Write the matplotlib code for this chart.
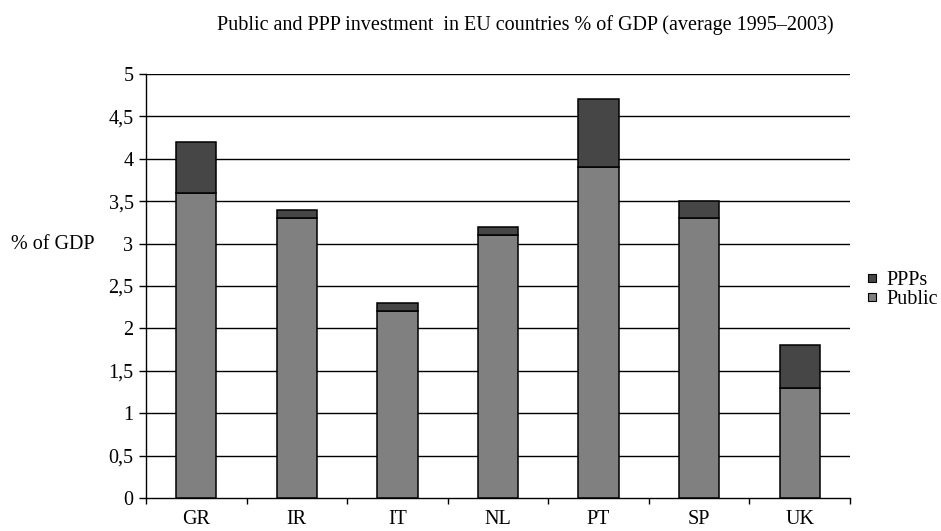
import numpy as np
import matplotlib
matplotlib.use("Agg")
import matplotlib.pyplot as plt
from matplotlib.lines import Line2D

plt.rcParams['font.family'] = ['Liberation Serif', 'DejaVu Serif']

# investimenti pubblici e PPP, % del PIL
countries = ['GR', 'IR', 'IT', 'NL', 'PT', 'SP', 'UK']
public = [3.6, 3.3, 2.2, 3.1, 3.9, 3.3, 1.3]
ppps = [0.6, 0.1, 0.1, 0.1, 0.8, 0.2, 0.5]
yticks = [0, 0.5, 1, 1.5, 2, 2.5, 3, 3.5, 4, 4.5, 5]
ytick_labels = ['0', '0,5', '1', '1,5', '2', '2,5', '3', '3,5', '4', '4,5', '5']

fs = 14.5

fig = plt.figure(figsize=(9.41, 5.31), dpi=100)
ax = fig.add_axes([146/941, 1 - 498/531, 704/941, 424/531])

x = np.arange(len(countries))
ax.bar(x, public, width=0.4, color='#808080', edgecolor='black', linewidth=1.1, zorder=3)
ax.bar(x, ppps, width=0.4, bottom=public, color='#464646', edgecolor='black', linewidth=1.1, zorder=3)

ax.set_xlim(-0.5, len(countries) - 0.5)
ax.set_ylim(0, 5)
ax.set_yticks(yticks)
ax.set_yticklabels(ytick_labels, fontsize=fs)
for y in yticks[1:]:
    ax.axhline(y, color='black', linewidth=1, zorder=1)

# categorie al centro, tacche sui confini
ax.set_xticks(x)
ax.set_xticklabels(countries, fontsize=fs)
ax.set_xticks(np.arange(-0.5, len(countries)), minor=True)
ax.tick_params(axis='x', which='major', length=0, pad=9)
ax.tick_params(axis='x', which='minor', length=4, direction='out', width=1)
ax.tick_params(axis='y', length=5, direction='out', width=1, pad=4)

ax.spines['top'].set_visible(False)
ax.spines['right'].set_visible(False)
ax.spines['left'].set_linewidth(1)
ax.spines['bottom'].set_linewidth(1)

fig.text(525/941, 1 - 25/531, 'Public and PPP investment  in EU countries % of GDP (average 1995\u20132003)',
         ha='center', va='center', fontsize=fs)
fig.text(53/941, 1 - 245/531, '% of GDP', ha='center', va='center', fontsize=fs)

handles = [
    Line2D([], [], linestyle='none', marker='s', markersize=6, markerfacecolor='#464646',
           markeredgecolor='black', markeredgewidth=0.8, label='PPPs'),
    Line2D([], [], linestyle='none', marker='s', markersize=6, markerfacecolor='#808080',
           markeredgecolor='black', markeredgewidth=0.8, label='Public'),
]
fig.legend(handles=handles, loc='center left', bbox_to_anchor=(862/941, 1 - 290/531),
           frameon=False, fontsize=fs, handletextpad=0.2, labelspacing=0.0,
           handlelength=1.0, borderpad=0, borderaxespad=0)

fig.savefig('out.png', dpi=100)
